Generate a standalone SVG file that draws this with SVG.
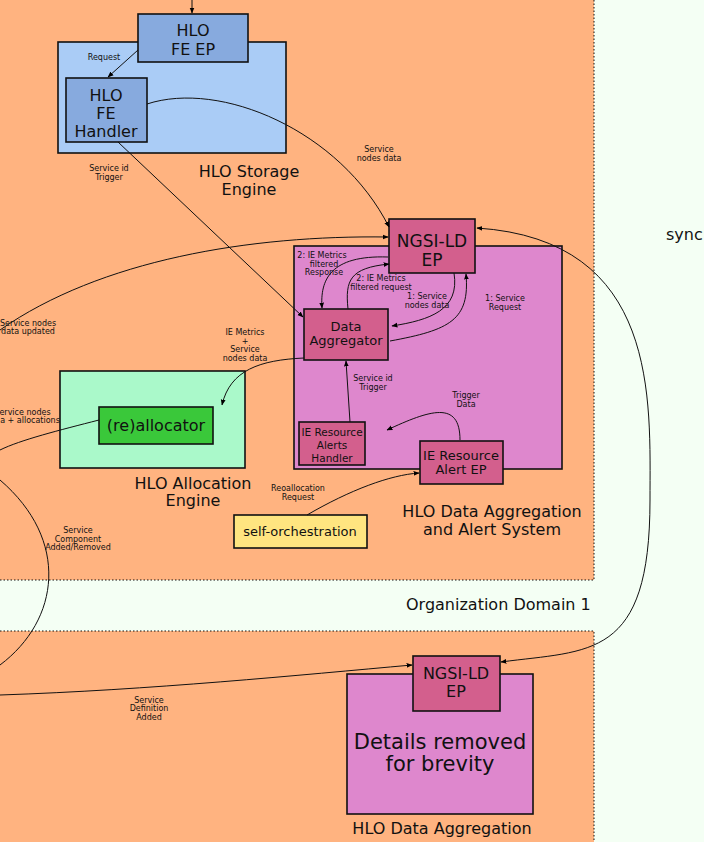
<svg xmlns="http://www.w3.org/2000/svg" width="704" height="842" viewBox="0 0 704 842">
<defs>
<marker id="a" viewBox="0 0 10 10" refX="9" refY="5" markerWidth="6" markerHeight="6" orient="auto-start-reverse"><path d="M0,1 L10,5 L0,9 z" fill="#000"/></marker>
<style>
text{font-family:"DejaVu Sans",sans-serif;fill:#111}
.s{font-size:8px;text-anchor:middle}
.n{stroke:#111;stroke-width:1.6}
.c path{fill:none;stroke:#111;stroke-width:1;marker-end:url(#a)}
.big{font-size:16px;text-anchor:middle}
.m{font-size:13px;text-anchor:middle}
.k{font-size:10.5px;text-anchor:middle}
</style>
</defs>
<rect width="704" height="842" fill="#f4fff4"/>
<rect x="0" y="0" width="594" height="580" fill="#ffb380"/>
<path d="M594,0 V580 H0" fill="none" stroke="#111" stroke-dasharray="1.5,2"/>
<rect x="0" y="631" width="594" height="211" fill="#ffb380"/>
<path d="M0,631 H594 V842" fill="none" stroke="#111" stroke-dasharray="1.5,2"/>
<text x="666" y="240" style="font-size:16px">sync</text>
<text x="406" y="610" style="font-size:16px">Organization Domain 1</text>

<g id="storage"><rect x="58" y="42" width="228" height="111" fill="#aaccf6" class="n"/><text x="249" y="177" class="big">HLO Storage</text><text x="249" y="195" class="big">Engine</text></g>
<g id="feep"><rect x="138" y="14" width="110" height="48" fill="#87aade" class="n"/><text x="193" y="36" class="big">HLO</text><text x="193" y="55" class="big">FE EP</text></g>
<g id="fehandler"><rect x="66" y="78" width="81" height="64" fill="#87aade" class="n"/><text x="106" y="101" class="big">HLO</text><text x="106" y="119" class="big">FE</text><text x="106" y="137" class="big">Handler</text></g>
<g id="aggsys"><rect x="294" y="246" width="268" height="223" fill="#de87cd" class="n"/><text x="492" y="517" class="big">HLO Data Aggregation</text><text x="492" y="535" class="big">and Alert System</text></g>
<g id="ngsi1"><rect x="389" y="219" width="86" height="54" fill="#d35f8d" class="n"/><text x="432" y="247" style="font-size:17px;text-anchor:middle">NGSI-LD</text><text x="432" y="266" style="font-size:17px;text-anchor:middle">EP</text></g>
<g id="aggregator"><rect x="304" y="309" width="84" height="51" fill="#d35f8d" class="n"/><text x="346" y="331" class="m">Data</text><text x="346" y="345" class="m">Aggregator</text></g>
<g id="alerthandler"><rect x="299" y="422" width="66" height="43" fill="#d35f8d" class="n"/><text x="332" y="436" class="k">IE Resource</text><text x="332" y="449" class="k">Alerts</text><text x="332" y="462" class="k">Handler</text></g>
<g id="alertep"><rect x="420" y="441" width="83" height="43" fill="#d35f8d" class="n"/><text x="461" y="460" class="m">IE Resource</text><text x="461" y="474" class="m">Alert EP</text></g>
<g id="alloc"><rect x="60" y="371" width="185" height="97" fill="#aaf9ca" class="n"/><text x="193" y="489" class="big">HLO Allocation</text><text x="193" y="506" class="big">Engine</text></g>
<g id="reallocator"><rect x="99" y="407" width="114" height="37" fill="#3ac83a" class="n"/><text x="156" y="431" style="font-size:16px;text-anchor:middle">(re)allocator</text></g>
<g id="selforch"><rect x="234" y="515" width="133" height="33" fill="#ffe580" class="n"/><text x="300" y="536" class="m">self-orchestration</text></g>
<g id="details"><rect x="347" y="674" width="186" height="140" fill="#de87cd" class="n"/><text x="440" y="749" style="font-size:21px;text-anchor:middle">Details removed</text><text x="440" y="771" style="font-size:21px;text-anchor:middle">for brevity</text><text x="442" y="834" class="big">HLO Data Aggregation</text></g>
<g id="ngsi2"><rect x="413" y="656" width="87" height="55" fill="#d35f8d" class="n"/><text x="456" y="679" style="font-size:16px;text-anchor:middle">NGSI-LD</text><text x="456" y="697" style="font-size:16px;text-anchor:middle">EP</text></g>

<g class="c">
<path d="M192,0 V13"/>
<path d="M138,50 L108,77"/>
<path d="M147,104 C220,80 340,130 389,227"/>
<path d="M118,142 L303,317"/>
<path d="M0,330 C100,260 250,235 388,237"/>
<path d="M388,257 C330,255 320,280 322,308"/>
<path d="M348,309 C345,280 350,268 389,264"/>
<path d="M454,273 C460,310 430,320 392,326"/>
<path d="M390,341 C450,330 470,320 466,274"/>
<path d="M304,358 C260,360 230,370 222,405"/>
<path d="M99,420 C60,430 20,440 0,450" style="marker-end:none"/>
<path d="M350,422 L346,361"/>
<path d="M460,440 C460,400 430,410 387,430"/>
<path d="M307,515 C350,490 390,475 419,473"/>
<path d="M0,480 C70,540 60,620 0,665" style="marker-end:none"/>
<path d="M0,695 C150,690 300,675 412,665"/>
<path d="M501,662 C590,650 650,660 650,500 C650,400 660,240 477,228" style="marker-start:url(#a)"/>
</g>
<g id="labels">
<text x="104" y="60" class="s">Request</text>
<text x="109" y="171" class="s">Service id</text><text x="109" y="180" class="s">Trigger</text>
<text x="379" y="152" class="s">Service</text><text x="379" y="161" class="s">nodes data</text>
<text x="322" y="258" class="s">2: IE Metrics</text><text x="324" y="267" class="s">filtered</text><text x="324" y="275" class="s">Response</text>
<text x="381" y="281" class="s">2: IE Metrics</text><text x="381" y="290" class="s">filtered request</text>
<text x="427" y="299" class="s">1: Service</text><text x="427" y="308" class="s">nodes data</text>
<text x="505" y="301" class="s">1: Service</text><text x="505" y="310" class="s">Request</text>
<text x="28" y="326" class="s">Service nodes</text><text x="28" y="334" class="s">data updated</text>
<text x="245" y="335" class="s">IE Metrics</text><text x="245" y="344" class="s">+</text><text x="245" y="352" class="s">Service</text><text x="245" y="361" class="s">nodes data</text>
<text x="25" y="415" class="s">ervice nodes</text><text x="30" y="423" class="s">a + allocations</text>
<text x="373" y="381" class="s">Service id</text><text x="373" y="390" class="s">Trigger</text>
<text x="466" y="398" class="s">Trigger</text><text x="466" y="407" class="s">Data</text>
<text x="298" y="491" class="s">Reoallocation</text><text x="298" y="500" class="s">Request</text>
<text x="78" y="533" class="s">Service</text><text x="78" y="542" class="s">Component</text><text x="78" y="550" class="s">Added/Removed</text>
<text x="149" y="703" class="s">Service</text><text x="149" y="711" class="s">Definition</text><text x="149" y="720" class="s">Added</text>
</g>
</svg>
